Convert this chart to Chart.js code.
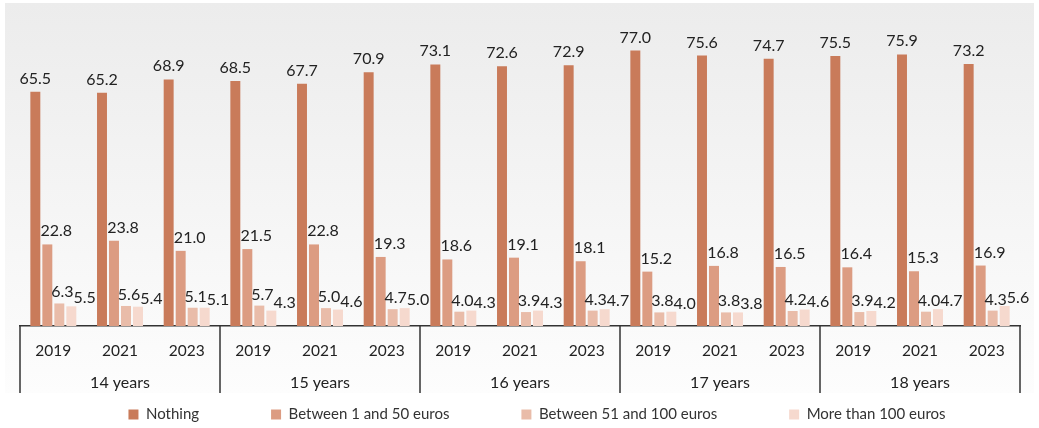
<!DOCTYPE html>
<html>
<head>
<meta charset="utf-8">
<script src="https://cdn.jsdelivr.net/npm/chart.js@4.4.1/dist/chart.umd.min.js"></script>
<style>
  html, body { margin: 0; padding: 0; background: #ffffff; }
  #wrap { width: 1039px; height: 428px; }
</style>
</head>
<body>
<div id="wrap"><canvas id="myChart" width="1039" height="428"></canvas></div>
<script>
// ages and survey years
const ages = ["14 years", "15 years", "16 years", "17 years", "18 years"];
const years = ["2019", "2021", "2023"];

// one value per (age, year), in order 14y-2019, 14y-2021, 14y-2023, 15y-2019 ...
const nothing    = [65.5, 65.2, 68.9, 68.5, 67.7, 70.9, 73.1, 72.6, 72.9, 77.0, 75.6, 74.7, 75.5, 75.9, 73.2];
const from1to50  = [22.8, 23.8, 21.0, 21.5, 22.8, 19.3, 18.6, 19.1, 18.1, 15.2, 16.8, 16.5, 16.4, 15.3, 16.9];
const from51to100 = [6.3, 5.6, 5.1, 5.7, 5.0, 4.7, 4.0, 3.9, 4.3, 3.8, 3.8, 4.2, 3.9, 4.0, 4.3];
const over100    = [5.5, 5.4, 5.1, 4.3, 4.6, 5.0, 4.3, 4.3, 4.7, 4.0, 3.8, 4.6, 4.2, 4.7, 5.6];

const seriesNames = ["Nothing", "Between 1 and 50 euros", "Between 51 and 100 euros", "More than 100 euros"];
const colors = ["#c97b5a", "#dc9c82", "#e9bca9", "#f6d9ce"];

let labels = [];
ages.forEach(a => years.forEach(y => labels.push(y)));

const FONT = "Lato, 'Open Sans', sans-serif";
const LEGEND_GAP = 72;

// keep the legend box short even with wide gaps between items
const LegendEl = Chart.registry.getPlugin('legend')._element;
const origFit = LegendEl.prototype.fit;
LegendEl.prototype.fit = function () {
  origFit.call(this);
  if (this.isHorizontal()) this.height = 35;
};

// background panel with soft vertical gradient
const panelBg = {
  id: 'panelBg',
  beforeDraw(chart) {
    const ctx = chart.ctx;
    const g = ctx.createLinearGradient(0, 3, 0, 393);
    g.addColorStop(0, "#ececec");
    g.addColorStop(1, "#fdfdfd");
    ctx.save();
    ctx.fillStyle = g;
    ctx.fillRect(5, 3, 1029, 390);
    ctx.restore();
  }
};

// value labels above the bars; the last series is pushed right if it hits the one before
const labelOffsets = [[0, -8], [9, -8], [3, -6], [6, -3]];
const valueLabels = {
  id: 'valueLabels',
  afterDatasetsDraw(chart) {
    const ctx = chart.ctx;
    ctx.save();
    ctx.font = "16px " + FONT;
    ctx.fillStyle = "#222222";
    ctx.textAlign = "left";
    ctx.textBaseline = "alphabetic";
    const n = chart.data.labels.length;
    for (let i = 0; i < n; i++) {
      let prev = null;
      chart.data.datasets.forEach((ds, di) => {
        const bar = chart.getDatasetMeta(di).data[i];
        const txt = ds.data[i].toFixed(1);
        const w = ctx.measureText(txt).width;
        const off = labelOffsets[di];
        let lx = bar.x + off[0] - w / 2;
        const ly = bar.y + off[1];
        if (prev && di === 3 && Math.abs(ly - prev.y) < 12 && lx < prev.right) {
          lx = prev.right;
        }
        ctx.fillText(txt, lx, ly);
        prev = { right: lx + w, y: ly };
      });
    }
    ctx.restore();
  }
};

// group separators and age labels under the year ticks
const ageGroups = {
  id: 'ageGroups',
  afterDraw(chart) {
    const ctx = chart.ctx;
    const x = chart.scales.x;
    const bottom = chart.chartArea.bottom;
    const step = (x.right - x.left) / labels.length;
    ctx.save();
    ctx.strokeStyle = "#333333";
    ctx.lineWidth = 1.5;
    for (let g = 0; g <= ages.length; g++) {
      const px = x.left + g * years.length * step;
      ctx.beginPath();
      ctx.moveTo(px, bottom);
      ctx.lineTo(px, bottom + 67);
      ctx.stroke();
    }
    ctx.font = "16px " + FONT;
    ctx.fillStyle = "#222222";
    ctx.textAlign = "center";
    ctx.textBaseline = "middle";
    ages.forEach((a, g) => {
      const cx = x.left + (g * years.length + 1.5) * step;
      ctx.fillText(a, cx, bottom + 57);
    });
    ctx.restore();
  }
};

// place the legend row like the original
const legendShift = {
  id: 'legendShift',
  afterLayout(chart) {
    const lg = chart.legend;
    lg.left += 17;
    lg.right += 17;
    lg.top = 407 - LEGEND_GAP;
  }
};

new Chart(document.getElementById("myChart").getContext("2d"), {
  type: 'bar',
  data: {
    labels: labels,
    datasets: [
      { label: seriesNames[0], data: nothing, backgroundColor: colors[0] },
      { label: seriesNames[1], data: from1to50, backgroundColor: colors[1] },
      { label: seriesNames[2], data: from51to100, backgroundColor: colors[2] },
      { label: seriesNames[3], data: over100, backgroundColor: colors[3] }
    ]
  },
  options: {
    responsive: false,
    animation: false,
    layout: { padding: { left: 20, right: 19, top: 4, bottom: 0 } },
    datasets: {
      bar: { barPercentage: 0.83, categoryPercentage: 0.72 }
    },
    scales: {
      x: {
        grid: { display: false, drawTicks: false },
        border: { display: true, color: "#333333", width: 1.5 },
        ticks: { font: { family: FONT, size: 15.5 }, color: "#222222", padding: 16, maxRotation: 0, autoSkip: false },
        afterFit(scale) { scale.height = 67; }
      },
      y: {
        display: false,
        min: 0,
        max: 90
      }
    },
    plugins: {
      legend: {
        position: 'bottom',
        labels: {
          font: { family: FONT, size: 15 },
          color: "#333333",
          boxWidth: 10,
          boxHeight: 10,
          padding: LEGEND_GAP
        }
      },
      tooltip: { enabled: false }
    }
  },
  plugins: [panelBg, valueLabels, ageGroups, legendShift]
});
</script>
</body>
</html>
